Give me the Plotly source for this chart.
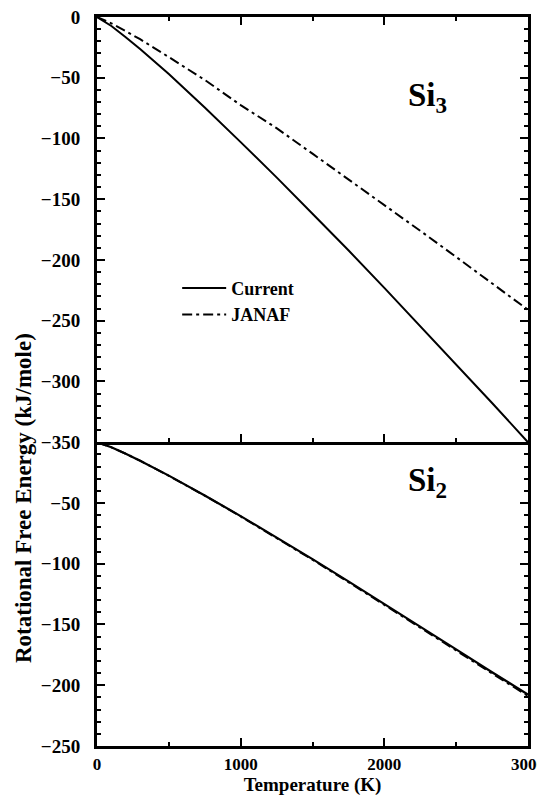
import plotly.graph_objects as go
from plotly.subplots import make_subplots

# Temperature grid (K)
temperature = [0, 100, 200, 300, 500, 750, 1000, 1250, 1500, 1750, 2000, 2250, 2500, 2750, 3000]

# Si3 rotational free energy (kJ/mole)
si3_current = [0, -7.4, -16.6, -26.4, -47, -74.5, -103, -132, -162, -192, -223, -254.5, -286, -317.7, -350]
si3_janaf = [0, -5.2, -11.6, -18.3, -33, -51.8, -72.5, -91.5, -112.5, -133.5, -155, -176, -197.5, -219, -241]

# Si2 rotational free energy (kJ/mole)
si2_current = [0, -4.2, -9.5, -15.2, -27.5, -43.8, -60.8, -78.3, -96.2, -114.5, -133, -151.9, -170.5, -189.3, -207.6]
si2_janaf = [0, -4.2, -9.5, -15.2, -27.6, -44.0, -61.1, -78.7, -96.7, -115.1, -133.7, -152.6, -171.4, -190.3, -208.8]

x_ticks = [0, 1000, 2000, 3000]
top_y_ticks = [0, -50, -100, -150, -200, -250, -300, -350]
bottom_y_ticks = [-250, -200, -150, -100, -50]

FONT = "Liberation Serif"
DASHDOT = "10px,4px,3px,4px"

fig = make_subplots(rows=2, cols=1, shared_xaxes=True, vertical_spacing=0,
                    row_heights=[0.5833, 0.4167])

fig.add_trace(go.Scatter(x=temperature, y=si3_current, mode="lines", name="Current",
                         line=dict(color="black", width=2)), row=1, col=1)
fig.add_trace(go.Scatter(x=temperature, y=si3_janaf, mode="lines", name="JANAF",
                         line=dict(color="black", width=2, dash=DASHDOT)), row=1, col=1)
fig.add_trace(go.Scatter(x=temperature, y=si2_janaf, mode="lines", showlegend=False,
                         line=dict(color="black", width=2, dash=DASHDOT)), row=2, col=1)
fig.add_trace(go.Scatter(x=temperature, y=si2_current, mode="lines", showlegend=False,
                         line=dict(color="black", width=2.2)), row=2, col=1)

tickfont = dict(family=FONT, size=19, color="black", weight="bold")
common = dict(showline=True, linewidth=3, linecolor="black",
              ticks="inside", ticklen=8, tickwidth=2, tickcolor="black",
              showgrid=False, zeroline=False,
              automargin=False, ticklabeloverflow="allow")
minor_x = dict(tickmode="linear", tick0=0, dtick=500, ticks="inside",
               ticklen=4, tickwidth=2, tickcolor="black")
minor_y = dict(tickmode="linear", tick0=0, dtick=10, ticks="inside",
               ticklen=4, tickwidth=2, tickcolor="black")

# top panel x axis: bottom line is the shared boundary, mirrored at the top
fig.update_xaxes(range=[0, 3000], tickvals=x_ticks, minor=minor_x, mirror="ticks",
                 showticklabels=False, tickfont=tickfont, row=1, col=1, **common)
# bottom panel x axis: no mirror (boundary is drawn by the top panel)
fig.update_xaxes(range=[0, 3000], tickvals=x_ticks, minor=minor_x, mirror=False,
                 ticklabelstandoff=1,
                 tickfont=dict(family=FONT, size=17, color="black", weight="bold"),
                 title=dict(text="Temperature (K)",
                            font=dict(family=FONT, size=19, color="black", weight="bold"),
                            standoff=2),
                 row=2, col=1, **common)

fig.update_yaxes(range=[-350, 0], tickvals=top_y_ticks, minor=minor_y, mirror="ticks",
                 ticklabelstandoff=10, tickfont=tickfont, row=1, col=1, **common)
fig.update_yaxes(range=[-250, 0], tickvals=bottom_y_ticks, minor=minor_y, mirror="ticks",
                 ticklabelstandoff=10, tickfont=tickfont, row=2, col=1, **common)

fig.add_annotation(text="Si<sub>3</sub>", x=2150, y=-66, xref="x", yref="y",
                   xanchor="left", yanchor="middle", showarrow=False,
                   font=dict(family=FONT, size=33, color="black", weight="bold"))
fig.add_annotation(text="Si<sub>2</sub>", x=2150, y=-33, xref="x2", yref="y2",
                   xanchor="left", yanchor="middle", showarrow=False,
                   font=dict(family=FONT, size=33, color="black", weight="bold"))

fig.add_annotation(text="Rotational Free Energy (kJ/mole)", textangle=-90,
                   x=-0.172, y=0.34, xref="paper", yref="paper",
                   xanchor="center", yanchor="middle", showarrow=False,
                   font=dict(family=FONT, size=23, color="black", weight="bold"))

# The page body has an 8px default margin, so the figure is sized 8px smaller
# and its margins are trimmed to keep the plot area where the reference has it.
fig.update_layout(
    width=537, height=793,
    margin=dict(l=89, r=17, t=9, b=55),
    paper_bgcolor="white", plot_bgcolor="white",
    legend=dict(x=0.186, y=0.61, xanchor="left", yanchor="middle",
                bgcolor="rgba(0,0,0,0)", itemwidth=44, tracegroupgap=0,
                font=dict(family=FONT, size=18, color="black", weight="bold")),
)

fig.write_html("out.html")
